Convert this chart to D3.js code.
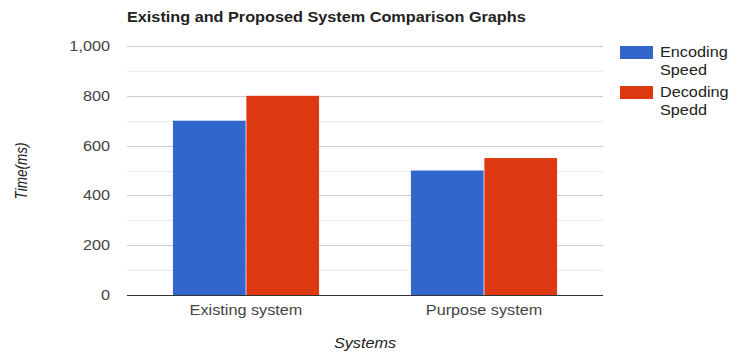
<!DOCTYPE html>
<html><head><meta charset="utf-8">
<script src="https://cdn.jsdelivr.net/npm/d3@7"></script>
<style>body{margin:0;background:#fff;}text{font-family:Arial,"Liberation Sans",sans-serif;}</style>
</head><body>
<svg id="c" width="729" height="352"></svg>
<script>
const categories = ["Existing system", "Purpose system"];
const seriesNames = [["Encoding","Speed"], ["Decoding","Spedd"]];
const encoding = [700, 500];
const decoding = [800, 550];
const yTicks = [0, 200, 400, 600, 800, 1000];
const colors = ["#3366cc", "#dc3912"];

const SX = 1.16; // horizontal stretch of text seen in the reference
const svg = d3.select("#c");
const L = 127, R = 603, T = 46, B = 295;
const x = d3.scaleBand().domain(categories).range([L, R]).paddingInner(0.386).paddingOuter(0.193);
const sub = d3.scaleBand().domain([0,1]).range([0, x.bandwidth()]).paddingInner(0.01);
const y = d3.scaleLinear().domain([0, 1000]).range([B, T]);
const tr = (px, py) => `translate(${px},${py}) scale(${SX},1)`;

// minor gridlines
const minor = d3.range(100, 1000, 200);
svg.append("g").selectAll("line").data(minor).join("line")
  .attr("x1", L).attr("x2", R).attr("y1", d=>Math.round(y(d))+0.5).attr("y2", d=>Math.round(y(d))+0.5)
  .attr("stroke", "#ebebeb").attr("stroke-width", 1);
svg.append("g").selectAll("line").data(yTicks.filter(d=>d>0)).join("line")
  .attr("x1", L).attr("x2", R).attr("y1", d=>Math.round(y(d))+0.5).attr("y2", d=>Math.round(y(d))+0.5)
  .attr("stroke", "#cccccc").attr("stroke-width", 1);

// y labels
svg.append("g").selectAll("text").data(yTicks).join("text")
  .attr("transform", d=>tr(110, y(d)+5)).attr("text-anchor", "end")
  .attr("font-size", 14).attr("fill", "#444").text(d=>d3.format(",")(d));

// bars
const data = categories.map((c,i)=>({c, vals:[encoding[i], decoding[i]]}));
const g = svg.append("g").selectAll("g").data(data).join("g").attr("transform", d=>`translate(${x(d.c)},0)`);
g.selectAll("rect").data(d=>d.vals.map((v,k)=>({v,k}))).join("rect")
  .attr("x", d=>sub(d.k)).attr("width", sub.bandwidth())
  .attr("y", d=>y(d.v)).attr("height", d=>y(0)-y(d.v))
  .attr("fill", d=>colors[d.k]);

// baseline
svg.append("line").attr("x1", L).attr("x2", R).attr("y1", B+0.5).attr("y2", B+0.5).attr("stroke", "#333").attr("stroke-width", 1);

// x labels
svg.append("g").selectAll("text").data(categories).join("text")
  .attr("transform", d=>tr(x(d)+x.bandwidth()/2, 315)).attr("text-anchor", "middle")
  .attr("font-size", 14).attr("fill", "#444").text(d=>d);

// title
svg.append("text").attr("transform", tr(127, 22)).attr("font-size", 14).attr("font-weight", "bold").attr("fill", "#222")
  .text("Existing and Proposed System Comparison Graphs");

// axis titles
svg.append("text").attr("transform", tr(365, 348)).attr("text-anchor", "middle").attr("font-size", 14)
  .attr("font-style", "italic").attr("fill", "#222").text("Systems");
svg.append("text").attr("transform", `translate(27,171) rotate(-90) scale(1,${SX})`).attr("text-anchor", "middle").attr("font-size", 13.5)
  .attr("font-style", "italic").attr("fill", "#222").text("Time(ms)");

// legend
const lg = svg.append("g").selectAll("g").data(seriesNames).join("g").attr("transform", (d,i)=>`translate(620,${46+i*40})`);
lg.append("rect").attr("width", 33).attr("height", 13).attr("fill", (d,i)=>colors[i]);
lg.append("text").attr("transform", tr(40, 11)).attr("font-size", 14).attr("fill", "#222").text(d=>d[0]);
lg.append("text").attr("transform", tr(40, 29)).attr("font-size", 14).attr("fill", "#222").text(d=>d[1]);
</script>
</body></html>
